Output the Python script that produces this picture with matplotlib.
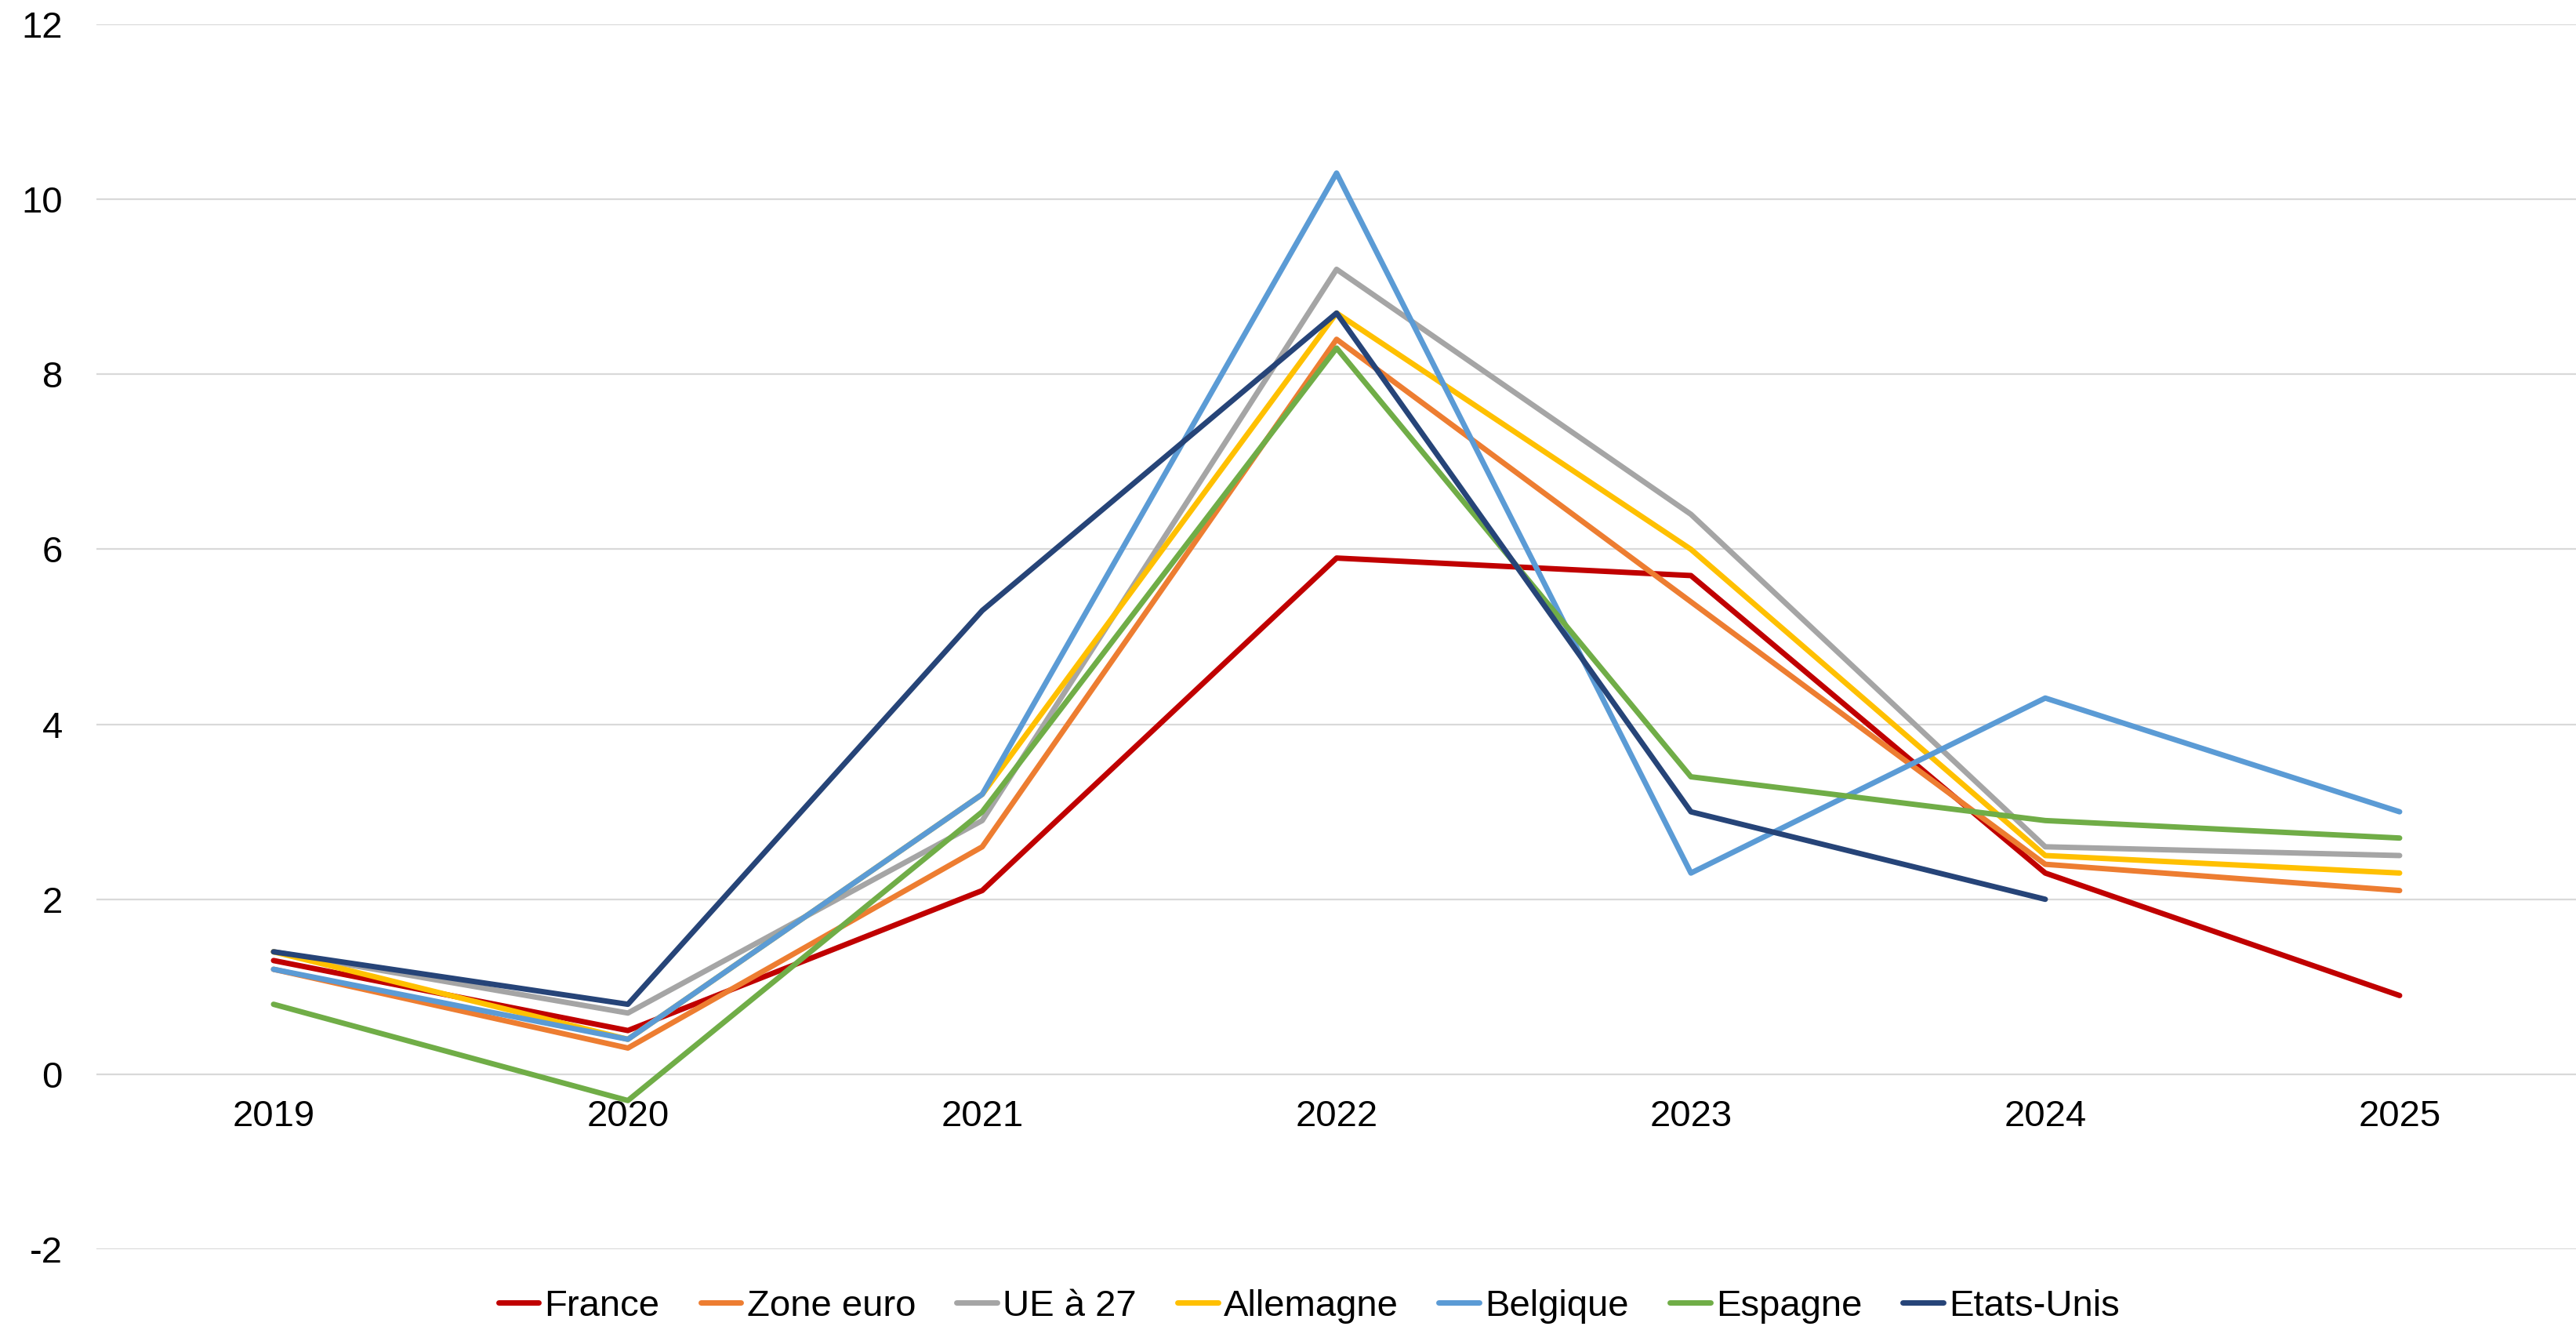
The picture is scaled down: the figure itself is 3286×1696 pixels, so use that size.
import matplotlib
matplotlib.use("Agg")
import matplotlib.pyplot as plt
import numpy as np

plt.rcParams['font.family'] = ['Liberation Sans', 'DejaVu Sans']
plt.rcParams['axes.unicode_minus'] = False

# years on the category axis
years = ['2019', '2020', '2021', '2022', '2023', '2024', '2025']

# inflation by zone
france = [1.3, 0.5, 2.1, 5.9, 5.7, 2.3, 0.9]
zone_euro = [1.2, 0.3, 2.6, 8.4, 5.4, 2.4, 2.1]
ue27 = [1.4, 0.7, 2.9, 9.2, 6.4, 2.6, 2.5]
allemagne = [1.4, 0.4, 3.2, 8.7, 6.0, 2.5, 2.3]
belgique = [1.2, 0.4, 3.2, 10.3, 2.3, 4.3, 3.0]
espagne = [0.8, -0.3, 3.0, 8.3, 3.4, 2.9, 2.7]
etats_unis = [1.4, 0.8, 5.3, 8.7, 3.0, 2.0, None]

names = ['France', 'Zone euro', 'UE à 27', 'Allemagne', 'Belgique', 'Espagne', 'Etats-Unis']
series = [france, zone_euro, ue27, allemagne, belgique, espagne, etats_unis]
colors = ['#C00000', '#ED7D31', '#A5A5A5', '#FFC000', '#5B9BD5', '#70AD47', '#264478']

fig = plt.figure(figsize=(32.87, 16.96), dpi=100)
ax = fig.add_axes([0.0374, 0.0607, 0.9626, 0.921])

x = np.arange(len(years))
for name, vals, col in zip(names, series, colors):
    v = np.array([np.nan if a is None else a for a in vals], dtype=float)
    ax.plot(x, v, color=col, linewidth=5, label=name,
            solid_capstyle='round', solid_joinstyle='round')

ax.set_xlim(-0.5, len(years) - 0.5)
ax.set_ylim(-2, 12)
ax.set_yticks(np.arange(-2, 13, 2))
ax.set_xticks(x)
ax.set_xticklabels(years)
ax.grid(axis='y', color='#D9D9D9', linewidth=1.6)
ax.set_axisbelow(True)

for s in ['top', 'right', 'left']:
    ax.spines[s].set_visible(False)
ax.spines['bottom'].set_position(('data', 0))
ax.spines['bottom'].set_visible(False)

ax.tick_params(axis='x', length=0, pad=23, labelsize=34)
ax.tick_params(axis='y', length=0, pad=31, labelsize=34)

fig.legend(loc='center', bbox_to_anchor=(0.508, 0.0177), ncol=7, frameon=False,
           fontsize=34, handlelength=1.1, handletextpad=0.15, columnspacing=1.1)

fig.savefig('out.png', dpi=100)
